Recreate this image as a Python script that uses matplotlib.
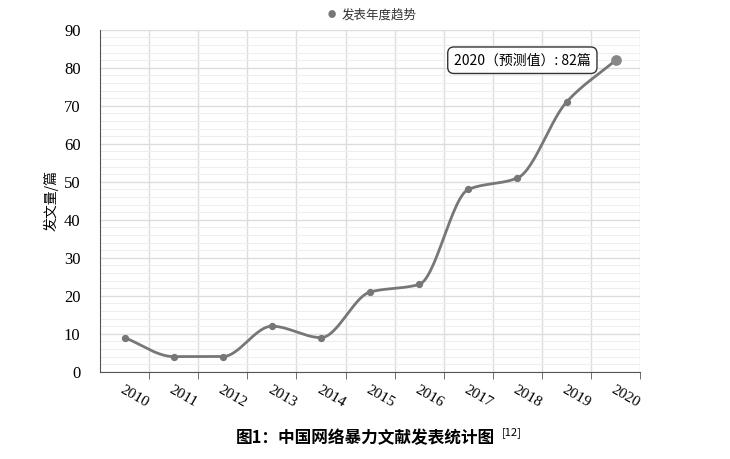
import numpy as np
import matplotlib
matplotlib.use('Agg')
import matplotlib.pyplot as plt

plt.rcParams['font.family'] = ['Noto Sans CJK SC', 'DejaVu Sans']

years = ['2010', '2011', '2012', '2013', '2014', '2015', '2016', '2017', '2018', '2019', '2020']
counts = [9, 4, 4, 12, 9, 21, 23, 48, 51, 71, 82]


def monotone(x, y, n=30):
    # Fritsch-Carlson monotone cubic, used only to draw the smooth line
    x = np.asarray(x, float); y = np.asarray(y, float)
    h = np.diff(x); d = np.diff(y) / h
    m = np.zeros_like(y)
    m[0], m[-1] = d[0], d[-1]
    for i in range(1, len(y) - 1):
        if d[i - 1] * d[i] <= 0:
            m[i] = 0
        else:
            m[i] = 2 / (1 / d[i - 1] + 1 / d[i])
    xs, ys = [], []
    for i in range(len(h)):
        t = np.linspace(0, 1, n)
        h00 = 2*t**3 - 3*t**2 + 1; h10 = t**3 - 2*t**2 + t
        h01 = -2*t**3 + 3*t**2; h11 = t**3 - t**2
        xs.append(x[i] + t*h[i])
        ys.append(h00*y[i] + h10*h[i]*m[i] + h01*y[i+1] + h11*h[i]*m[i+1])
    return np.concatenate(xs), np.concatenate(ys)


fig = plt.figure(figsize=(7.3, 4.59), dpi=100)
ax = fig.add_axes([0.137, 0.19, 0.74, 0.745])
xi = np.arange(len(years))
sx, sy = monotone(xi, counts)
ax.plot(sx, sy, color='#777777', lw=2)
ax.scatter(xi[:-1], counts[:-1], color='#777777', s=18, zorder=3)
ax.scatter(xi[-1:], counts[-1:], color='#888888', s=45, zorder=3)

ax.set_xlim(-0.5, 10.5)
ax.set_ylim(0, 90)
ax.set_yticks(range(0, 91, 10))
ax.set_yticks(range(0, 91, 2), minor=True)
ax.set_xticks(xi + 0.5, minor=True)
ax.set_xticks(xi)
ax.set_xticklabels(years, rotation=-30, ha='left', rotation_mode='anchor',
                   family=['Liberation Serif'], fontsize=11)
for lab in ax.get_yticklabels():
    lab.set_family(['Liberation Serif'])
    lab.set_fontsize(12)
ax.grid(True, which='major', axis='y', color='#dddddd', lw=1)
ax.grid(True, which='minor', axis='y', color='#eeeeee', lw=0.8)
ax.grid(True, which='minor', axis='x', color='#dddddd', lw=1)
ax.tick_params(axis='x', which='major', length=0, pad=8)
ax.tick_params(axis='x', which='minor', length=5, color='#555555')
ax.tick_params(axis='y', which='both', length=0, pad=14)
ax.set_axisbelow(True)
for s in ['top', 'right']:
    ax.spines[s].set_visible(False)
ax.spines['left'].set_color('#555555')
ax.spines['bottom'].set_color('#555555')
ax.set_ylabel('发文量/篇', fontsize=10)

ax.annotate('2020（预测值）: 82篇', xy=(xi[-1], counts[-1]), xytext=(8.1, 82),
            fontsize=10, ha='center', va='center',
            bbox=dict(boxstyle='round,pad=0.45', fc='white', ec='#333333', lw=1))

fig.text(0.455, 0.968, '●', ha='center', va='center', fontsize=6, color='#777777')
fig.text(0.468, 0.968, '发表年度趋势', ha='left', va='center', fontsize=9, color='#333333')
fig.text(0.5, 0.045, '图1：中国网络暴力文献发表统计图', ha='center', va='center',
         fontsize=12, fontweight='bold')
fig.text(0.688, 0.058, '[12]', ha='left', va='center', fontsize=8)

fig.savefig('out.png', dpi=100)
